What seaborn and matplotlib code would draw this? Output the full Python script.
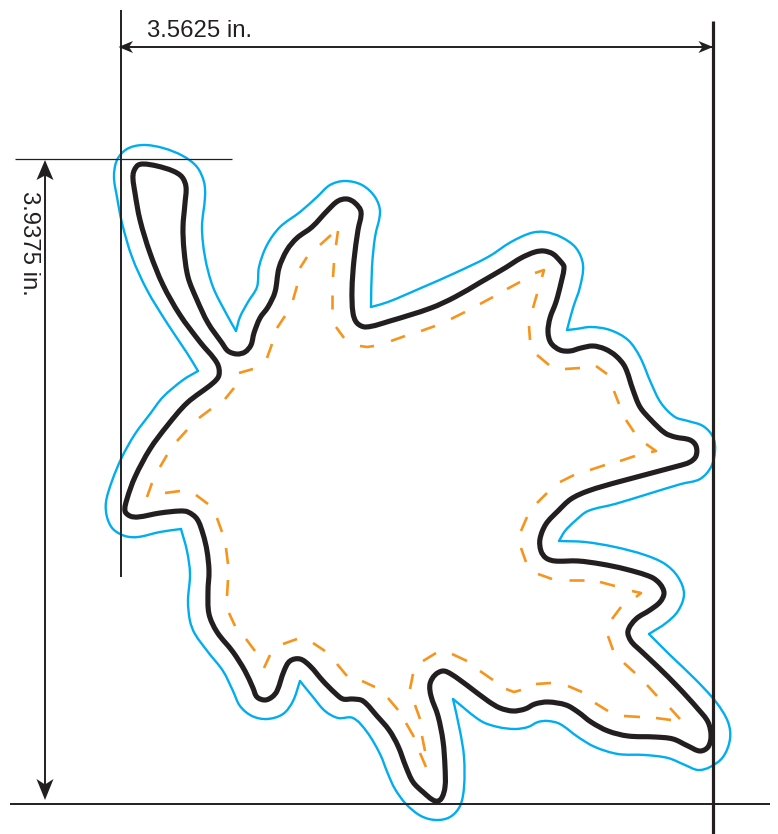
import numpy as np
import pandas as pd
import matplotlib
matplotlib.use("Agg")
import matplotlib.pyplot as plt
from matplotlib.path import Path
from matplotlib.patches import PathPatch
import seaborn as sns

INK = "#231f20"
CYAN = "#00aeef"
ORANGE = "#f7941d"

black_pts = [(133,175),(137,166),(143,164),(157,166),(173,171),(182,177),(186,187),(185,203),(183,227),(184,250),
 (188,277),(197,300),(208,323),(222,343),(228,351),(237,354),(245,352),(251,345),(254,333),(260,318),(268,307),
 (275,292),(279,268),(287,250),(297,238),(312,227),(328,210),(338,201),(347,199),(355,203),(361,212),(358,230),
 (354,260),(352,290),(353,313),(357,323),(366,327),(390,321),(431,308),(455,297),(481,282),(505,268),
 (521,258),(535,252),(544,251),(553,254),(561,262),(564,267),(561,283),(556,302),(550,318),(548,332),(551,343),
 (560,350),(570,351),(581,348),(593,346),(605,349),(616,356),(625,367),(633,390),(640,407),(651,420),(665,433),
 (675,437),(690,440),(696,446),(696,456),(690,462),(678,466),(618,482),(588,491),(571,499),(558,511),
 (546,524),(540,539),(541,551),(546,558),(555,561),(578,561),(601,564),(625,569),(651,577),(660,584),(664,593),
 (660,602),(650,610),(636,619),(628,631),(631,641),(641,651),(658,667),(678,687),(698,709),(708,722),(711,736),
 (708,747),(700,751),(688,746),(673,739),(655,737),(628,736),(608,731),(591,722),(578,712),(566,705),(548,702),
 (535,704),(525,709),(513,711),(500,708),(488,701),(468,686),(451,674),(443,671),(435,675),(430,684),(431,696),
 (438,716),(443,741),(445,767),(445,787),(441,799),(435,801),(423,792),(413,782),(406,767),(398,746),(389,730),
 (377,716),(363,701),(353,699),(343,699),(335,693),(323,681),(310,666),(300,659),(290,661),(284,671),(277,691),
 (272,697),(265,700),(257,697),(253,688),(245,671),(233,652),(217,632),(209,614),(208,591),(209,571),(207,551),
 (203,534),(197,519),(188,512),(180,511),(160,513),(138,517),(130,516),(125,511),(127,499),(135,477),(150,449),
 (167,426),(187,403),(213,383),(219,375),(217,363),(200,342),(180,315),(163,285),(150,253),(140,220),(135,193)]

cyan_runs = [
 [(198,371),(187,353),(167,323),(147,290),(132,257),(122,223),(117,197),(114,177),(117,160),(127,149),(143,145),
  (163,148),(183,156),(197,167),(204,182),(205,197),(202,227),(205,257),(213,287),(227,315),(236,331)],
 [(236,331),(240,317),(248,302),(257,287),(259,267),(267,245),(280,227),(300,212),(317,197),(330,185),(345,181),
  (362,185),(375,197),(380,212),(375,237),(372,267),(371,307)],
 [(371,307),(388,302),(421,288),(455,273),(488,257),(511,242),(531,233),(545,232),(561,237),(576,248),(583,265),
  (580,287),(573,308),(567,330)],
 [(567,330),(576,329),(591,327),(610,330),(628,340),(640,357),(651,383),(661,403),(675,417),(688,421),(703,426),
  (713,437),(715,451),(711,467),(700,479),(681,484),(648,494),(615,504),(588,511),(575,521),(565,531),(559,541)],
 [(559,541),(585,542),(615,547),(645,555),(665,564),(678,577),(684,594),(678,611),(666,623),(649,634)],
 [(649,634),(671,656),(695,679),(716,702),(728,722),(730,739),(723,757),(710,767),(698,770),(685,765),(668,758),
  (645,755),(618,754),(595,747),(578,737),(560,724),(548,721),(538,722),(528,727),(515,729),(498,727),(481,721),(453,699)],
 [(453,699),(460,731),(464,757),(464,787),(460,806),(450,817),(436,820),(421,816),(406,804),(395,789),(388,774),
  (380,754),(367,732),(353,718),(338,718),(325,711),(313,697),(300,681)],
 [(300,681),(293,701),(283,714),(267,719),(252,716),(240,706),(233,691),(223,671),(208,652),(195,634),(190,621),
  (188,601),(190,574),(187,551),(181,529)],
 [(181,529),(160,532),(138,537),(125,536),(113,529),(107,517),(106,502),(112,481),(122,457),(135,434),(150,414),
  (163,397),(183,380),(198,371)],
]

orange_dashes = [
 [(199,418),(211,409)],[(225,399),(234,388)],[(239,373),(253,369)],[(267,358),(272,344)],[(277,328),(285,316)],
 [(293,300),(297,286)],[(300,268),(307,257)],[(320,245),(331,235)],[(338,231),(336,245)],[(334,263),(333,277)],
 [(332,295),(332,309)],[(336,327),(344,338)],[(360,346),(367,347),(374,346)],[(391,341),(405,336)],
 [(421,331),(435,326)],[(451,319),(465,312)],[(480,304),(493,297)],[(507,289),(520,282)],
 [(535,273),(544,270),(542,277)],[(537,294),(533,308)],[(529,326),(530,340)],[(537,355),(549,365)],
 [(565,369),(580,368)],[(596,366),(607,374)],[(614,391),(619,404)],[(626,420),(634,432)],
 [(646,444),(656,451),(651,452)],[(635,456),(620,461)],[(605,465),(590,470)],[(574,475),(560,482)],
 [(547,493),(537,503)],[(527,517),(521,531)],[(521,548),(526,562)],[(538,574),(552,579)],[(569,580),(584,580)],
 [(600,582),(615,586)],[(632,591),(641,593),(636,597)],[(621,607),(612,619)],[(608,636),(613,650)],
 [(624,663),(635,673)],[(647,685),(657,696)],[(670,708),(680,719)],[(671,720),(656,718)],[(640,717),(624,716)],
 [(608,711),(595,703)],[(582,692),(568,686)],[(551,683),(536,684)],[(521,690),(514,692),(506,689)],
 [(493,680),(480,671)],[(467,661),(452,654)],[(436,653),(423,661)],[(413,674),(410,689)],[(415,705),(420,719)],
 [(422,736),(425,751)],[(420,753),(426,767)],[(414,737),(406,723)],[(398,710),(388,698)],[(375,687),(362,681)],
 [(347,676),(337,664)],[(325,651),(313,643)],[(297,639),(283,644)],[(270,655),(264,668)],[(255,651),(246,639)],
 [(235,626),(229,613)],[(227,596),(228,580)],[(228,564),(226,548)],[(222,532),(217,518)],[(208,504),(196,495)],
 [(180,491),(165,493)],[(147,497),(152,483)],[(160,467),(167,455)],[(177,441),(187,430)],
]

rules = [
 ([121,121],[10,577],1.4),
 ([713.4,713.4],[21,834],2.3),
 ([10,770],[803.7,803.7],1.4),
 ([15,232],[159.3,159.3],0.9),
 ([121,713],[47,47],1.4),
 ([45,45],[165,795],1.4),
]
labels = ["3.5625 in.", "3.9375 in."]
dim_span_h = (118.5, 713)
dim_span_v = (160, 800)
dim_y = 47
dim_x = 45


def smooth_path(pts, closed=False):
    p = np.asarray(pts, float)
    n = len(p)

    def tangent(i):
        if closed:
            a, b = p[(i-1) % n], p[(i+1) % n]
        else:
            a, b = p[max(i-1, 0)], p[min(i+1, n-1)]
        v = b - a
        return v / np.hypot(*v)

    verts = [p[0]]
    codes = [Path.MOVETO]
    for i in range(n if closed else n-1):
        j = (i+1) % n
        h = np.hypot(*(p[j]-p[i])) / 3
        verts += [p[i] + tangent(i)*h, p[j] - tangent(j)*h, p[j]]
        codes += [Path.CURVE4]*3
    return Path(verts, codes)


sns.set_theme(style="white", rc={"font.family": ["Liberation Sans", "DejaVu Sans"]})
fig = plt.figure(figsize=(7.78, 8.34), dpi=100, facecolor="white")
ax = fig.add_axes([0, 0, 1, 1])

rule_df = pd.DataFrame([{"id": i, "x": x, "y": y, "w": r[2]}
                        for i, r in enumerate(rules) for x, y in zip(r[0], r[1])])
for i, g in rule_df.groupby("id"):
    sns.lineplot(data=g, x="x", y="y", sort=False, estimator=None, color=INK,
                 lw=g["w"].iloc[0], legend=False, ax=ax, zorder=4, solid_capstyle="butt")

dash_df = pd.DataFrame([{"id": i, "x": x, "y": y}
                        for i, d in enumerate(orange_dashes) for x, y in d])
sns.lineplot(data=dash_df, x="x", y="y", units="id", estimator=None, sort=False, color=ORANGE,
             lw=1.9, legend=False, ax=ax, zorder=2, solid_capstyle="butt")

for run in cyan_runs:
    ax.add_patch(PathPatch(smooth_path(run), fc="none", ec=CYAN, lw=1.7, zorder=3, capstyle="round"))
ax.add_patch(PathPatch(smooth_path(black_pts, closed=True), fc="none", ec=INK, lw=3.7, zorder=5,
                       joinstyle="round"))

def head(tip, direction, length, half, notch):
    d = np.array(direction, float)
    n = np.array([-d[1], d[0]])
    t = np.array(tip, float)
    poly = [t, t - d*length + n*half, t - d*notch, t - d*length - n*half]
    ax.fill(*zip(*poly), color=INK, lw=0, zorder=6)

head((dim_span_h[0], dim_y), (-1, 0), 14.5, 6, 10.5)
head((dim_span_h[1], dim_y), (1, 0), 14.5, 6, 10.5)
head((dim_x, dim_span_v[0]), (0, -1), 20, 8.5, 15.5)
head((dim_x, dim_span_v[1]), (0, 1), 21, 8.5, 15.5)

ax.text(199.5, 31, labels[0], fontsize=17.2, color=INK, ha="center", va="center",
        family=["Liberation Sans", "DejaVu Sans"])
ax.text(29, 243.5, labels[1], fontsize=17.2, color=INK, ha="center", va="center", rotation=-90,
        family=["Liberation Sans", "DejaVu Sans"])

ax.set_xlim(0, 778)
ax.set_ylim(834, 0)
ax.set_axis_off()
fig.savefig("out.png", dpi=100, facecolor="white")
